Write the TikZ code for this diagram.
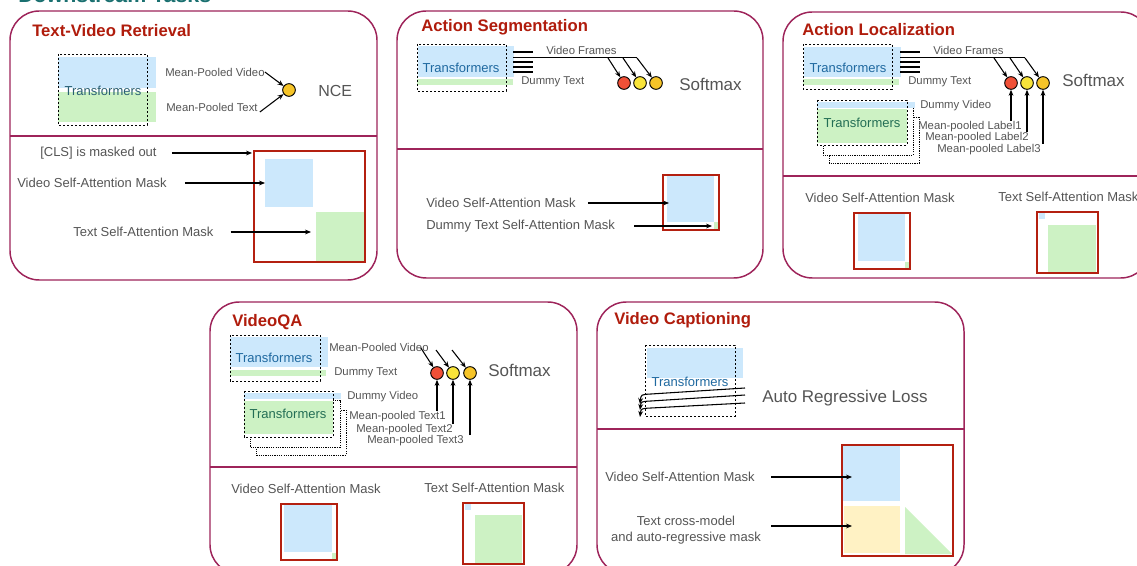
\documentclass[tikz,border=0pt]{standalone}
\usepackage{fontspec}
\setmainfont{Liberation Sans}
\usetikzlibrary{arrows.meta,calc}
\definecolor{pborder}{RGB}{158,36,90}
\definecolor{ttlred}{RGB}{176,28,12}
\definecolor{ttlteal}{RGB}{26,112,112}
\definecolor{vblue}{RGB}{204,232,252}
\definecolor{tgreen}{RGB}{205,242,196}
\definecolor{tyellow}{RGB}{255,242,196}
\definecolor{mred}{RGB}{180,32,16}
\definecolor{txtgray}{RGB}{85,85,85}
\definecolor{trblue}{RGB}{31,105,160}
\definecolor{trgreen}{RGB}{35,110,85}
\definecolor{trteal}{RGB}{40,95,115}
\definecolor{cred}{RGB}{240,80,55}
\definecolor{cyel}{RGB}{248,228,58}
\definecolor{cgold}{RGB}{246,196,40}
\begin{document}
\begin{tikzpicture}[x=0.75pt,y=-0.75pt,
  panel/.style={draw=pborder, line width=1.1pt},
  ttl/.style={font=\bfseries\fontsize{12.5}{14}\selectfont, text=ttlred, anchor=west, inner sep=0},
  lbl/.style={font=\fontsize{8.5}{10}\selectfont, text=txtgray, inner sep=0, anchor=west},
  mlbl/.style={font=\fontsize{9.75}{12}\selectfont, text=txtgray, inner sep=0, anchor=west},
  big/.style={font=\fontsize{12.75}{15}\selectfont, text=txtgray, inner sep=0, anchor=west},
  tr/.style={font=\fontsize{9.75}{12}\selectfont, inner sep=0},
  dbox/.style={draw=black, line width=0.7pt, dash pattern=on 1.6pt off 1.4pt},
  dbox2/.style={draw=black, line width=0.6pt, dash pattern=on 0.9pt off 0.8pt, fill=white},
  mask/.style={draw=mred, line width=1.6pt},
  arr/.style={-{Stealth[length=4.5pt,width=3.6pt]}, line width=0.8pt},
  bar/.style={line width=0.9pt},
  circ/.style={circle, draw=black, line width=0.7pt, minimum size=9.5pt, inner sep=0}]
\useasboundingbox (0,0) rectangle (1137,566);
\fill[white] (0,0) rectangle (1137,566);
\node[anchor=base west, font=\bfseries\fontsize{16}{18}\selectfont, text=ttlteal, inner sep=0] (main) at (18,3) {Downstream Tasks};

% ================= Panel 1: Text-Video Retrieval
\draw[panel, rounded corners=22pt] (10,11) rectangle (377,280);
\draw[panel] (10,136) -- (377,136);
\node[ttl] (t1) at (32,31) {Text-Video Retrieval};
\fill[vblue] (58,57) rectangle (156,88);
\fill[tgreen] (58,92) rectangle (156,122);
\draw[dbox] (58,54) rectangle (147,125);
\node[tr, text=trteal] (tr1) at (103,91) {Transformers};
\node[lbl] (mpv1) at (165,72) {Mean-Pooled Video};
\node[lbl] (mpt1) at (166,107) {Mean-Pooled Text};
\node[circ, fill=cgold] (c1) at (289,90) {};
\draw[arr] (mpv1.east) -- (c1);
\draw[arr] ($(mpt1.east)+(2,5)$) -- (c1);
\node[big, font=\fontsize{12}{14}\selectfont] (nce) at (318,91) {NCE};
\fill[vblue] (265,159) rectangle (313,207);
\fill[tgreen] (316,212) rectangle (364,262);
\draw[mask] (254,151) rectangle (365,262);
\coordinate (m1a) at (252,153);
\coordinate (m1b) at (265,183);
\coordinate (m1c) at (311,232);
\node[mlbl] (cls) at (40,153) {[CLS] is masked out};
\node[mlbl] (vsa1) at (17,183) {Video Self-Attention Mask};
\node[mlbl] (tsa1) at (73,232) {Text Self-Attention Mask};
\draw[arr] ($(cls.east)+(15,0)$) -- (m1a);
\draw[arr] ($(vsa1.east)+(18,0)$) -- (m1b);
\draw[arr] ($(tsa1.east)+(17,0)$) -- (m1c);

% ================= Panel 2: Action Segmentation
\draw[panel, rounded corners=22pt] (397,11) rectangle (763,278);
\draw[panel] (397,149) -- (763,149);
\node[ttl] (t2) at (421,27) {Action Segmentation};
\fill[vblue] (418,46) rectangle (514,77);
\fill[tgreen] (417,79) rectangle (513,85);
\draw[dbox] (417,44) rectangle (506,91);
\node[tr, text=trblue] (tr2) at (461,68) {Transformers};
\foreach \yy in {52,62,67,72} \draw[bar] (513,\yy) -- (533,\yy);
\coordinate (vf2s) at (513,57.5);
\coordinate (vf2e) at (637,57.5);
\draw[bar] (vf2s) -- (vf2e);
\node[lbl] (vf2) at (546,50) {Video Frames};
\node[lbl] (dt2) at (521,82) {Dummy Text};
\node[circ, fill=cred] (s2a) at (624,83) {};
\node[circ, fill=cyel] (s2b) at (640,83) {};
\node[circ, fill=cgold] (s2c) at (656,83) {};
\coordinate (a2a) at (608,58);
\coordinate (a2b) at (623,58);
\coordinate (a2c) at (637,58);
\draw[arr] (a2a) -- (s2a);
\draw[arr] (a2b) -- (s2b);
\draw[arr] (a2c) -- (s2c);
\node[big] (sm2) at (679,84) {Softmax};
\fill[vblue] (667,176) rectangle (714,222);
\fill[tgreen] (714,222) rectangle (719,229);
\draw[mask] (663,175) rectangle (719,230);
\coordinate (m2a) at (669,203);
\coordinate (m2b) at (712,226);
\node[mlbl] (vsa2) at (426,203) {Video Self-Attention Mask};
\node[mlbl] (dsa2) at (426,226) {Dummy Text Self-Attention Mask};
\draw[arr] ($(vsa2.east)+(12,0)$) -- (m2a);
\draw[arr] ($(dsa2.east)+(19,0)$) -- (m2b);

% ================= Panel 3: Action Localization
\draw[panel, rounded corners=22pt] (783,12) rectangle (1150,278);
\draw[panel] (783,176) -- (1150,176);
\node[ttl] (t3) at (802,30) {Action Localization};
\fill[vblue] (804,47) rectangle (901,77);
\fill[tgreen] (803,79) rectangle (899,85);
\draw[dbox] (803,44) rectangle (892,89);
\node[tr, text=trblue] (tr3) at (848,68) {Transformers};
\foreach \yy in {52,62,67,72} \draw[bar] (900,\yy) -- (920,\yy);
\coordinate (vf3s) at (900,57.5);
\coordinate (vf3e) at (1025,57.5);
\draw[bar] (vf3s) -- (vf3e);
\node[lbl] (vf3) at (933,50) {Video Frames};
\node[lbl] (dt3) at (908,82) {Dummy Text};
\node[circ, fill=cred] (s3a) at (1011,83) {};
\node[circ, fill=cyel] (s3b) at (1027,83) {};
\node[circ, fill=cgold] (s3c) at (1043,83) {};
\coordinate (a3a) at (994,58);
\coordinate (a3b) at (1010,58);
\coordinate (a3c) at (1025,58);
\draw[arr] (a3a) -- (s3a);
\draw[arr] (a3b) -- (s3b);
\draw[arr] (a3c) -- (s3c);
\node[big] (sm3) at (1062,80) {Softmax};
% stacked transformers
\draw[dbox2] (829,117) rectangle (919,163);
\draw[dbox2] (823,107) rectangle (913,155);
\fill[white] (817,100) rectangle (907,145);
\fill[vblue] (817,102) rectangle (915,108);
\fill[tgreen] (817,109) rectangle (907,143);
\draw[dbox] (817,100) rectangle (907,145);
\node[tr, text=trgreen] (tr3b) at (862,123) {Transformers};
\node[lbl] (dv3) at (920,106) {Dummy Video};
\node[lbl] (l31) at (918,127) {Mean-pooled Label1};
\node[lbl] (l32) at (925,138) {Mean-pooled Label2};
\node[lbl] (l33) at (937,150) {Mean-pooled Label3};
\coordinate (b3a) at (1011,121);
\coordinate (b3b) at (1027,132);
\coordinate (b3c) at (1043,144);
\draw[arr] (b3a) -- (s3a);
\draw[arr] (b3b) -- (s3b);
\draw[arr] (b3c) -- (s3c);
\node[mlbl] (vsa3) at (805,198) {Video Self-Attention Mask};
\fill[vblue] (858,214) rectangle (905,261);
\fill[tgreen] (905,262) rectangle (910,268);
\draw[mask] (854,213) rectangle (910,269);
\node[mlbl] (tsa3) at (998,197) {Text Self-Attention Mask};
\fill[vblue] (1039,213) rectangle (1045,219);
\fill[tgreen] (1048,225) rectangle (1096,272);
\draw[mask] (1037,212) rectangle (1098,273);

% ================= Panel 4: VideoQA
\draw[panel, rounded corners=22pt] (210,302) rectangle (577,574);
\draw[panel] (210,467) -- (577,467);
\node[ttl] (t4) at (232,322) {VideoQA};
\fill[vblue] (230,337) rectangle (328,367);
\fill[tgreen] (230,370) rectangle (326,376);
\draw[dbox] (230,335) rectangle (320,381);
\node[tr, text=trblue] (tr4) at (274,358) {Transformers};
\node[lbl] (mpv4) at (329,347) {Mean-Pooled Video};
\node[lbl] (dt4) at (334,373) {Dummy Text};
\node[circ, fill=cred] (s4a) at (437,373) {};
\node[circ, fill=cyel] (s4b) at (453,373) {};
\node[circ, fill=cgold] (s4c) at (470,373) {};
\coordinate (a4b) at (436,350);
\coordinate (a4c) at (452,350);
\draw[arr] ($(mpv4.east)+(-8,1)$) -- (s4a);
\draw[arr] (a4b) -- (s4b);
\draw[arr] (a4c) -- (s4c);
\node[big] (sm4) at (488,370) {Softmax};
\draw[dbox2] (256,410) rectangle (346,455);
\draw[dbox2] (250,400) rectangle (340,447);
\fill[white] (244,391) rectangle (333,437);
\fill[vblue] (244,393) rectangle (341,399);
\fill[tgreen] (244,401) rectangle (333,434);
\draw[dbox] (244,391) rectangle (333,437);
\node[tr, text=trgreen] (tr4b) at (288,414) {Transformers};
\node[lbl] (dv4) at (347,397) {Dummy Video};
\node[lbl] (l41) at (349,417) {Mean-pooled Text1};
\node[lbl] (l42) at (356,430) {Mean-pooled Text2};
\node[lbl] (l43) at (367,441) {Mean-pooled Text3};
\coordinate (b4a) at (437,411);
\coordinate (b4b) at (453,424);
\coordinate (b4c) at (470,435);
\draw[arr] (b4a) -- (s4a);
\draw[arr] (b4b) -- (s4b);
\draw[arr] (b4c) -- (s4c);
\node[mlbl] (vsa4) at (231,489) {Video Self-Attention Mask};
\fill[vblue] (284,505) rectangle (332,552);
\fill[tgreen] (332,553) rectangle (337,559);
\draw[mask] (281,504) rectangle (337,560);
\node[mlbl] (tsa4) at (424,488) {Text Self-Attention Mask};
\fill[vblue] (465,504) rectangle (471,510);
\fill[tgreen] (475,515) rectangle (522,563);
\draw[mask] (463,503) rectangle (524,564);

% ================= Panel 5: Video Captioning
\draw[panel, rounded corners=22pt] (597,302) rectangle (964,574);
\draw[panel] (597,429) -- (964,429);
\node[ttl] (t5) at (614,320) {Video Captioning};
\fill[vblue] (647,348) rectangle (743,378);
\draw[dbox] (645,345) rectangle (735,416);
\node[tr, text=trblue] (tr5) at (690,382) {Transformers};
\coordinate (r5a) at (745,388);
\coordinate (r5b) at (745,395);
\coordinate (r5c) at (745,403);
\coordinate (e5a) at (640,404);
\coordinate (e5b) at (640,410);
\coordinate (e5c) at (640,417);
\draw[arr] (r5a) -- (651,394) .. controls (641,394.5) .. (e5a);
\draw[arr] (r5b) -- (651,401) .. controls (641,401.5) .. (e5b);
\draw[arr] (r5c) -- (651,408) .. controls (641,408.5) .. (e5c);
\node[big] (arl) at (762,398) {Auto Regressive Loss};
\fill[vblue] (843,446) rectangle (900,501);
\fill[tyellow] (844,506) rectangle (900,553);
\fill[tgreen] (905,507) -- (905,554) -- (952,554) -- cycle;
\draw[mask] (842,445) rectangle (953,556);
\coordinate (m5a) at (852,477);
\coordinate (m5b) at (852,526);
\node[mlbl] (vsa5) at (605,477) {Video Self-Attention Mask};
\node[mlbl, anchor=center, align=center] (tcm5) at (686,530) {Text cross-model\\and auto-regressive mask};
\coordinate (s5a) at (771,477);
\coordinate (s5b) at (771,526);
\draw[arr] (s5a) -- (m5a);
\draw[arr] (s5b) -- (m5b);
\end{tikzpicture}
\end{document}
